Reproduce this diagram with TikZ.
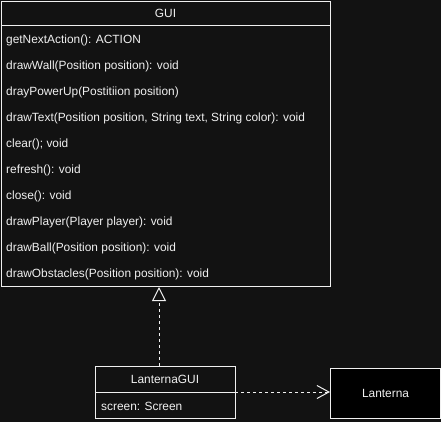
\documentclass[tikz,border=0pt]{standalone}
\usepackage{fontspec}
\setmainfont{Liberation Sans}
\usetikzlibrary{arrows.meta}
\definecolor{bgdark}{RGB}{18,18,18}
\definecolor{linewhite}{RGB}{240,240,240}

\begin{document}
\begin{tikzpicture}[x=1pt,y=-1pt,
        box/.style={draw=linewhite,fill=bgdark,line width=1pt,inner sep=0pt},
        txt/.style={text=linewhite,font=\fontsize{11.9}{14}\selectfont,inner sep=0pt},
        rel/.style={draw=linewhite,line width=1pt,dash pattern=on 3pt off 3pt}]
        	\fill[bgdark] (0,0) rectangle (441,422);
        	\useasboundingbox (0,0) rectangle (441,422);

        	% interface GUI
        	\node[box,anchor=north west,minimum width=329pt,minimum height=285pt] (gui) at (1,1) {};
        	\node[txt] (guititle) at (165.5,13.5) {GUI};
        	\draw[draw=linewhite,line width=1pt] (1,26) -- (330,26);
        	\foreach \m [count=\i] in {{getNextAction(): ACTION},
        	  {drawWall(Position position): void},
        	  {drayPowerUp(Postitiion position)},
        	  {drawText(Position position, String text, String color): void},
        	  {clear(); void},{refresh(): void},{close(): void},
        	  {drawPlayer(Player player): void},
        	  {drawBall(Position position): void},
        	  {drawObstacles(Position position): void}} {
        		\node[txt,anchor=west] (m\i) at (6,14.5+26*\i) {\m};
        	};

        	% class LanternaGUI
        	\node[box,anchor=north west,minimum width=140pt,minimum height=52pt] (lgui) at (95,366) {};
        	\node[txt] (lguititle) at (165,379.5) {LanternaGUI};
        	\draw[draw=linewhite,line width=1pt] (95,392) -- (235,392);
        	\node[txt,anchor=west] (lguiattr) at (101,406) {screen: Screen};

        	% library Lanterna
        	\node[box,fill=black,anchor=north west,minimum width=110pt,minimum height=50pt] (lant) at (330,368) {};
        	\node[txt] (lanttitle) at (lant.center) {Lanterna};

        	% relations
        	\coordinate (impl) at (159,366);
        	\draw[rel,-{Triangle[open,length=14pt,width=14pt,line width=1pt]}] (impl) -- (impl |- gui.south);
        	\coordinate (dep) at (235,392);
        	\draw[rel,-{Straight Barb[length=12pt,width=13pt,line width=1pt]}] (dep) -- (dep -| lant.west);
        \end{tikzpicture}
\end{document}
